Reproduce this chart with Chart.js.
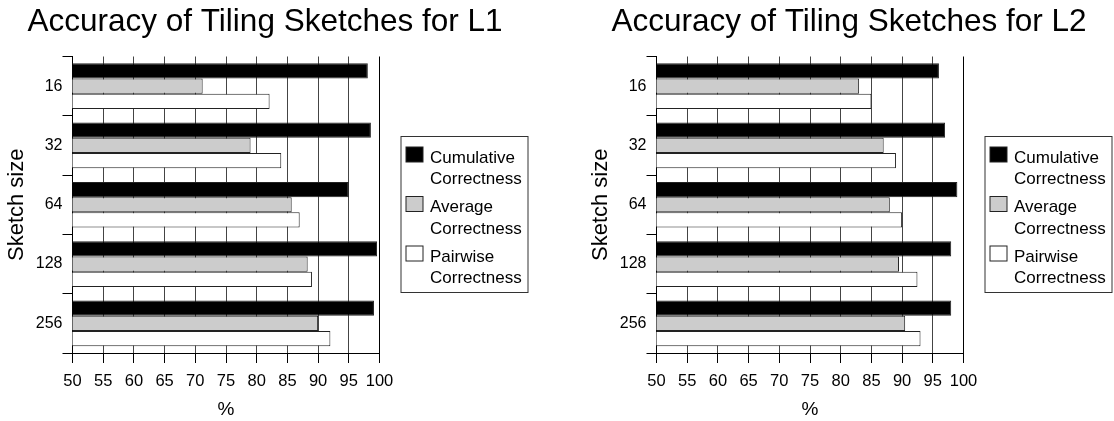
<!DOCTYPE html>
<html>
<head>
<meta charset="utf-8">
<script src="https://cdn.jsdelivr.net/npm/chart.js@4/dist/chart.umd.min.js"></script>
<style>
  body { margin: 0; background: #fff; }
  #wrap { position: relative; width: 1114px; height: 421px; overflow: hidden; }
  canvas { position: absolute; top: 0; }
</style>
</head>
<body>
<div id="wrap">
  <canvas id="chartL1" width="530" height="421" style="left:0px"></canvas>
  <canvas id="chartL2" width="530" height="421" style="left:584px"></canvas>
</div>
<script>
// sketch sizes on the category axis
const sizes = ['16', '32', '64', '128', '256'];
const seriesNames = [['Cumulative', 'Correctness'], ['Average', 'Correctness'], ['Pairwise', 'Correctness']];
const seriesColors = ['#000000', '#cccccc', '#ffffff'];
const xTickValues = [50, 55, 60, 65, 70, 75, 80, 85, 90, 95, 100];

// values (%)
const l1Cumulative = [98.1, 98.6, 95.0, 99.6, 99.1];
const l1Average = [71.2, 79.0, 85.7, 88.3, 90.0];
const l1Pairwise = [82.1, 84.0, 87.0, 89.0, 92.0];

const l2Cumulative = [96.0, 97.0, 99.0, 98.0, 98.0];
const l2Average = [83.0, 87.0, 88.0, 89.5, 90.5];
const l2Pairwise = [85.0, 89.0, 90.0, 92.5, 93.0];

const FONT = '"Liberation Sans", Arial, Helvetica, sans-serif';
Chart.defaults.font.family = FONT;
Chart.defaults.color = '#000';

// legend box drawn beside the plot, two lines per entry
const boxLegend = {
    id: 'boxLegend',
    afterDraw(chart) {
        const ctx = chart.ctx;
        const left = chart.chartArea.right + 21.5;
        const top = 136.5;
        ctx.save();
        ctx.strokeStyle = '#333';
        ctx.lineWidth = 1;
        ctx.strokeRect(left, top, 127, 156);
        ctx.font = '17px ' + FONT;
        ctx.textBaseline = 'alphabetic';
        ctx.textAlign = 'left';
        chart.data.datasets.forEach(function(ds, i) {
            const y = top + 10.5 + i * 49.5;
            ctx.fillStyle = ds.backgroundColor;
            ctx.fillRect(left + 5, y, 17, 15);
            ctx.strokeStyle = '#222';
            ctx.strokeRect(left + 5, y, 17, 15);
            ctx.fillStyle = '#000';
            ctx.fillText(ds.label[0], left + 29, y + 15.5);
            ctx.fillText(ds.label[1], left + 29, y + 37);
        });
        ctx.restore();
    }
};

function makeChart(id, title, cumulative, average, pairwise) {
    const values = [cumulative, average, pairwise];
    const datasets = values.map(function(v, i) {
        return {
            label: seriesNames[i],
            data: v,
            backgroundColor: seriesColors[i],
            borderColor: '#222',
            borderWidth: 1,
            xAxisID: 'x',
            yAxisID: 'y'
        };
    });

    return new Chart(document.getElementById(id), {
        type: 'bar',
        data: { labels: sizes, datasets: datasets },
        options: {
            indexAxis: 'y',
            responsive: false,
            animation: false,
            layout: { padding: 0 },
            categoryPercentage: 0.77,
            barPercentage: 1.0,
            plugins: {
                legend: { display: false },
                tooltip: { enabled: false },
                title: {
                    display: true,
                    text: title,
                    color: '#000',
                    font: { size: 31.5, weight: 'normal', lineHeight: 1.2 },
                    padding: { top: 3, bottom: 15.7 }
                }
            },
            scales: {
                y: {
                    type: 'category',
                    position: 'left',
                    grid: {
                        drawOnChartArea: false,
                        drawTicks: true,
                        tickLength: 10,
                        color: '#000',
                        offset: true
                    },
                    border: { display: true, color: '#000', width: 1 },
                    ticks: { font: { size: 16 }, padding: 0, color: '#000' },
                    title: {
                        display: true,
                        text: 'Sketch size',
                        font: { size: 22 },
                        padding: { top: 3.5, bottom: 0 }
                    },
                    afterFit: function(s) { s.width = 72.5; }
                },
                gap: {
                    axis: 'y',
                    type: 'category',
                    position: 'right',
                    grid: { display: false },
                    border: { display: false },
                    ticks: { display: false },
                    afterFit: function(s) { s.width = 150.5; }
                },
                x: {
                    type: 'linear',
                    min: 50,
                    max: 100,
                    afterBuildTicks: function(s) {
                        s.ticks = xTickValues.map(function(v) { return { value: v }; });
                    },
                    grid: {
                        color: function(c) { return c.tick && c.tick.value === 100 ? '#000' : '#444'; },
                        tickColor: '#000',
                        tickLength: 10,
                        lineWidth: 1
                    },
                    border: { display: true, color: '#000', width: 1 },
                    ticks: {
                        font: { size: 16.5 },
                        padding: 9,
                        maxRotation: 0,
                        autoSkip: false,
                        color: '#000'
                    },
                    title: {
                        display: true,
                        text: '%',
                        font: { size: 19 },
                        padding: { top: 0, bottom: 0 }
                    },
                    afterFit: function(s) { s.height = 68; }
                }
            }
        },
        plugins: [boxLegend]
    });
}

makeChart('chartL1', 'Accuracy of Tiling Sketches for L1', l1Cumulative, l1Average, l1Pairwise);
makeChart('chartL2', 'Accuracy of Tiling Sketches for L2', l2Cumulative, l2Average, l2Pairwise);
</script>
</body>
</html>
